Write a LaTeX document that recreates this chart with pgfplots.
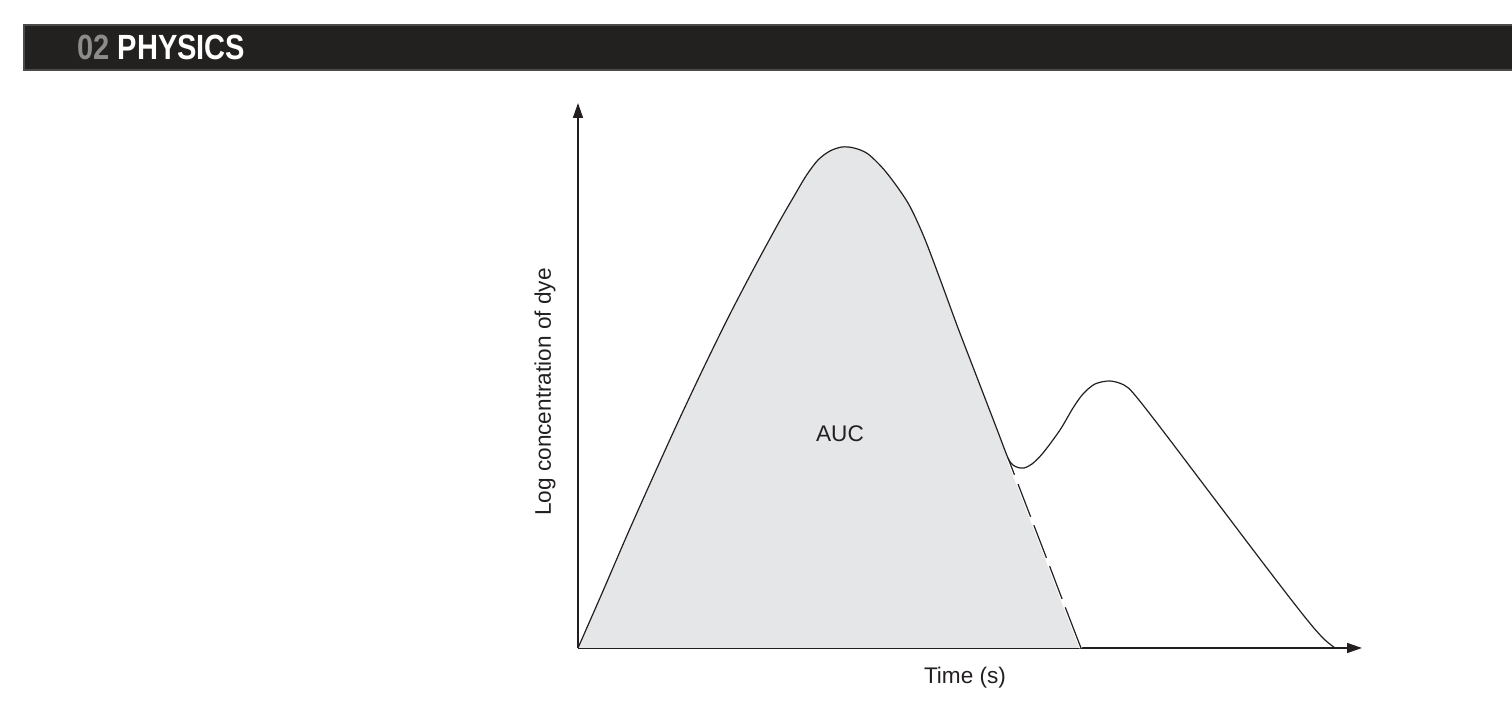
\documentclass[border=0pt]{standalone}
\usepackage{pgfplots}
\pgfplotsset{compat=1.18}
\usetikzlibrary{arrows.meta}
\usepackage{fontspec}
\setmainfont{Liberation Sans}
\newfontfamily\hdrfont[FakeStretch=0.83]{Liberation Sans}
\definecolor{barbg}{HTML}{222120}
\definecolor{barline}{HTML}{4A4A4A}
\definecolor{numgray}{HTML}{8C8C8C}
\definecolor{ink}{HTML}{231F20}
\definecolor{aucfill}{HTML}{E5E6E8}
\begin{document}
\begin{tikzpicture}
\useasboundingbox (0pt,0pt) rectangle (756pt,352.5pt);
% header bar
\fill[barbg] (12pt,317.5pt) rectangle (756pt,340pt);
\draw[barline,line width=0.6pt] (756pt,340pt) -- (12pt,340pt) -- (12pt,317.5pt) -- (756pt,317.5pt);
\node[anchor=base west,inner sep=0pt] at (38.5pt,322.5pt)
  {\hdrfont\bfseries\fontsize{17.5}{20}\selectfont\textcolor{numgray}{02} \textcolor{white}{PHYSICS}};
\begin{axis}[
  at={(289pt,28.5pt)}, anchor=south west,
  scale only axis, width=392pt, height=272.5pt,
  xmin=0, xmax=784, ymin=0, ymax=545,
  axis lines=left,
  axis line style={ink, line width=0.75pt, -{Triangle[length=7.5pt,width=5pt]}},
  xtick=\empty, ytick=\empty,
  clip=false,
]
% AUC fill
\addplot[fill=aucfill, draw=none, smooth] coordinates {
(0,0) (25,57) (50,115) (75,171) (100,226) (125,279) (150,330) (175,378)
(200,424) (215,450) (228,472) (240,488) (252,497) (264,501) (276,500)
(290,494) (308,476) (330,445) (346,411) (362,369) (380,320) (400,268)
(420,216) (430,190) (450,138) (470,86) (486,44) (503,0)
} \closedcycle;
% extrapolated (dashed) decay
\addplot[white, line width=1.6pt, smooth] coordinates {
(430,190) (450,138) (470,86) (486,44) (503,0)
};
\addplot[ink, line width=0.6pt, smooth,
  dash pattern=on 9pt off 5pt on 17.5pt off 4.5pt on 17.5pt off 4.5pt on 17.5pt off 4.5pt on 25pt] coordinates {
(430,190) (450,138) (470,86) (486,44) (503,0)
};
% measured curve with recirculation
\addplot[ink, line width=0.6pt, smooth] coordinates {
(0,0) (25,57) (50,115) (75,171) (100,226) (125,279) (150,330) (175,378)
(200,424) (215,450) (228,472) (240,488) (252,497) (264,501) (276,500)
(290,494) (308,476) (330,445) (346,411) (362,369) (380,320) (400,268)
(420,216) (430,190) (435,183) (440,180.5) (446,180) (454,184) (465,195)
(482,218) (495,240) (505,254) (517,264) (532,267) (546,263) (556,254)
(582,221) (632,155) (682,89) (715,46) (735,21) (747,8) (757,0)
};
\node[ink, font=\fontsize{11.3}{13}\selectfont] at (axis cs:262,214) {AUC};
\node[ink, font=\fontsize{11.3}{13}\selectfont, rotate=90] at (axis cs:-33,256) {Log concentration of dye};
\node[ink, font=\fontsize{11.3}{13}\selectfont] at (axis cs:387,-30) {Time (s)};
\end{axis}
\end{tikzpicture}
\end{document}
